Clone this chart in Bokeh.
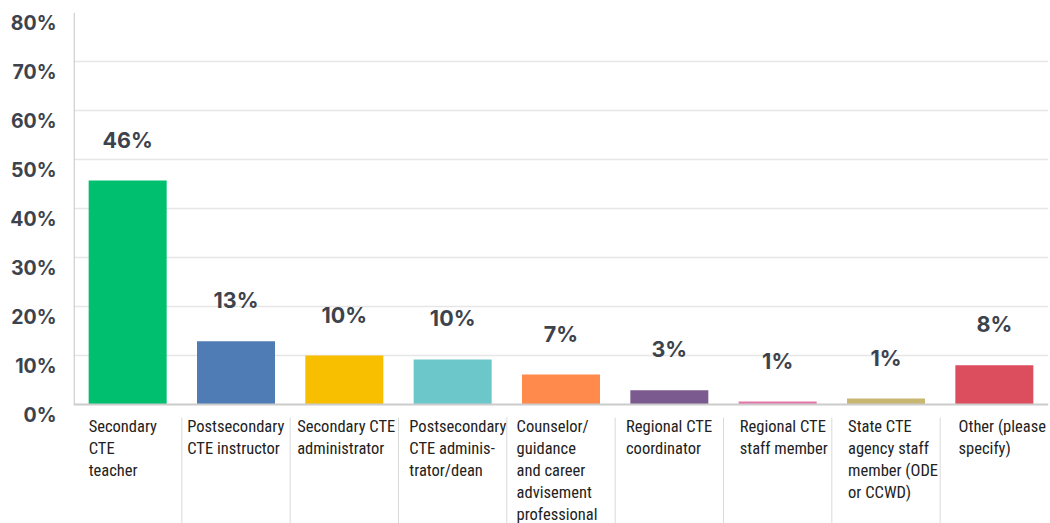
import numpy as np
from bokeh.plotting import figure
from bokeh.models import Range1d, LinearAxis, FixedTicker, Span, ColumnDataSource
from bokeh.core.properties import value
from bokeh.embed import file_html
from bokeh.resources import INLINE

# ---- data ----
categories = [
    "Secondary\nCTE\nteacher",
    "Postsecondary\nCTE instructor",
    "Secondary CTE\nadministrator",
    "Postsecondary\nCTE adminis-\ntrator/dean",
    "Counselor/\nguidance\nand career\nadvisement\nprofessional",
    "Regional CTE\ncoordinator",
    "Regional CTE\nstaff member",
    "State CTE\nagency staff\nmember (ODE\nor CCWD)",
    "Other (please\nspecify)",
]
values = [45.7, 12.9, 10.0, 9.2, 6.1, 2.9, 0.6, 1.2, 8.0]
value_labels = ["46%", "13%", "10%", "10%", "7%", "3%", "1%", "1%", "8%"]
colors = ["#00bf6f", "#507cb5", "#f8be00", "#6cc7cb", "#ff8a4c",
          "#7b5b8f", "#e377a8", "#c8b673", "#dc4e5e"]
y_ticks = [0, 10, 20, 30, 40, 50, 60, 70, 80]
y_tick_labels = {t: f"{t}%" for t in y_ticks}

# ---- layout constants ----
PX_PER_UNIT = 392 / 80.0
Y_MIN = -119 / PX_PER_UNIT
LABEL_SHIFT = 10 / PX_PER_UNIT
label_dx = [0.14, 0.05, 0.065, 0.10, 0.09, 0.10, 0.15, 0.15, 0.17]

n = len(categories)
xc = np.arange(n) + 0.5

p = figure(width=1050, height=523, output_backend="svg", toolbar_location=None,
           x_range=Range1d(0, n), y_range=Range1d(Y_MIN, 80),
           x_axis_location=None, y_axis_location=None,
           min_border_left=73, min_border_right=2, min_border_top=12, min_border_bottom=0)
p.outline_line_color = None
p.background_fill_color = "white"
p.border_fill_color = "white"

# grid
p.xgrid.visible = False
p.ygrid.ticker = FixedTicker(ticks=[10, 20, 30, 40, 50, 60, 70])
p.ygrid.grid_line_color = "#e6e6e6"
p.ygrid.grid_line_width = 1.5

# y axis labels (on a shifted range so labels sit slightly below grid lines)
p.extra_y_ranges = {"lab": Range1d(Y_MIN + LABEL_SHIFT, 80 + LABEL_SHIFT)}
yax = LinearAxis(y_range_name="lab", ticker=FixedTicker(ticks=y_ticks),
                 major_label_overrides=y_tick_labels)
yax.axis_line_color = None
yax.major_tick_line_color = None
yax.minor_tick_line_color = None
yax.major_label_standoff = 11
yax.major_label_text_font = "Inter"
yax.major_label_text_font_style = "bold"
yax.major_label_text_font_size = "19.5px"
yax.major_label_text_color = "#3d434d"
p.add_layout(yax, "left")

# axis lines
p.segment(x0=[0.006], y0=[0], x1=[0.006], y1=[80], line_color="#cfcfcf", line_width=1.5)
p.add_layout(Span(location=0, dimension="width", line_color="#cccccc", line_width=2))

# bars
src = ColumnDataSource(dict(x=xc, top=values, color=colors, lab=value_labels))
p.vbar(x="x", top="top", width=0.72, fill_color="color", line_color=None, source=src)

# value labels
p.text(x="x", y="top", text="lab", source=src, text_align="center",
       text_baseline="middle", y_offset=-41,
       text_font=value("Inter"), text_font_style="bold",
       text_font_size="21.5px", text_color="#3d434d")

# category separators
sep_x = np.arange(1, n)
p.segment(x0=sep_x, y0=[-13 / PX_PER_UNIT] * len(sep_x), x1=sep_x,
          y1=[Y_MIN] * len(sep_x), line_color="#d9d9d9", line_width=1)

# category labels
p.text(x=np.arange(n) + np.array(label_dx), y=[-12 / PX_PER_UNIT] * n, text=categories,
       text_align="left", text_baseline="top",
       text_font=value("Roboto Condensed"),
       text_font_size="16.5px", text_line_height=1.16, text_color="#222222")

open("out.html", "w").write(file_html(p, INLINE))
